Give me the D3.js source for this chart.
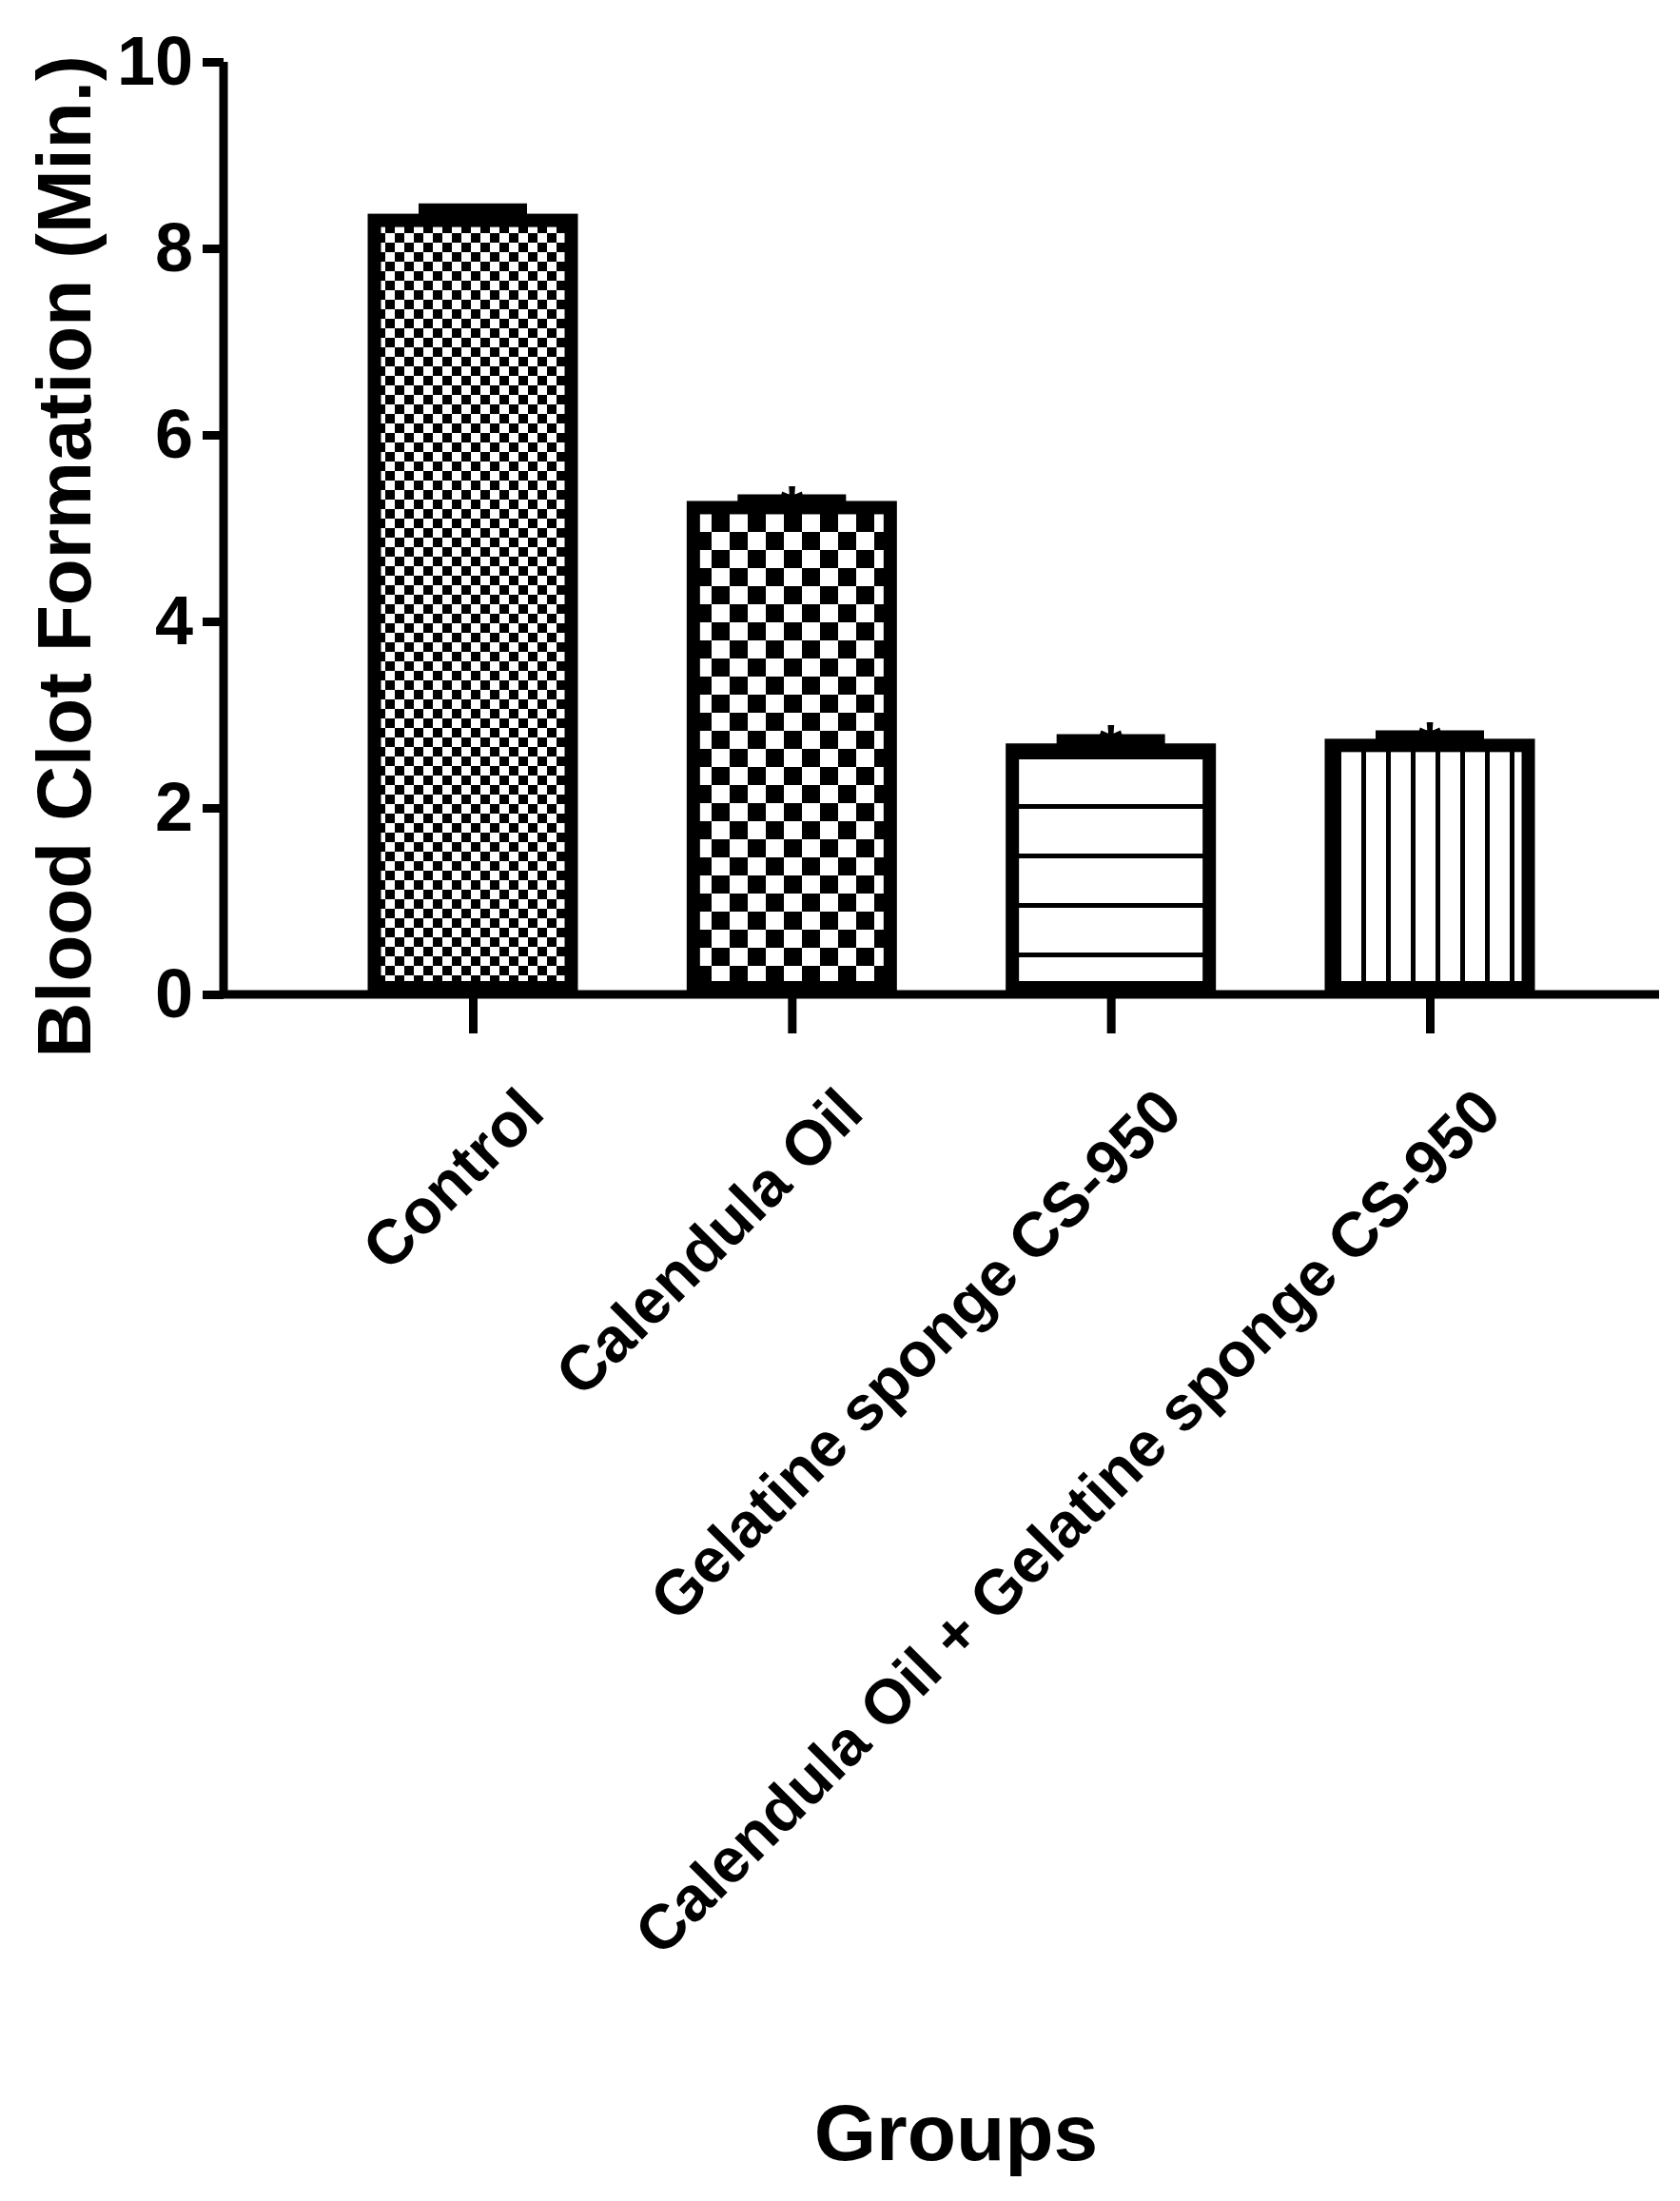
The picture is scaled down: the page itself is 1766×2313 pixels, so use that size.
<!DOCTYPE html>
<html><head><meta charset="utf-8">
<script src="https://cdn.jsdelivr.net/npm/d3@7"></script>
<style>body{margin:0;background:#fff}</style>
</head><body>
<script>
var groups = ["Control", "Calendula Oil", "Gelatine sponge CS-950", "Calendula Oil + Gelatine sponge CS-950"];
var means = [8.3, 5.22, 2.62, 2.67];
var errors = [0.12, 0.08, 0.11, 0.1];
var stars = ["", "*", "*", "*"];
var patterns = ["fine", "coarse", "hlines", "vlines"];
var yTicks = [0, 2, 4, 6, 8, 10];

var margin = {top: 65, left: 235},
  width = 1744 - margin.left,
  height = 1045 - margin.top,
  barW = 221;

var font = "Liberation Sans, Arial, sans-serif";
var svg = d3.select("body").append("svg")
  .attr("width", 1766).attr("height", 2313)
  .style("font-family", font).style("font-weight", "bold");

var defs = svg.append("defs");
function checker(id, s) {
  var p = defs.append("pattern").attr("id", id).attr("patternUnits", "userSpaceOnUse")
    .attr("width", 2 * s).attr("height", 2 * s);
  p.append("rect").attr("width", 2 * s).attr("height", 2 * s).attr("fill", "#fff");
  p.append("rect").attr("width", s).attr("height", s).attr("fill", "#000");
  p.append("rect").attr("x", s).attr("y", s).attr("width", s).attr("height", s).attr("fill", "#000");
}
checker("fine", 10);
checker("coarse", 19);
var ph = defs.append("pattern").attr("id", "hlines").attr("patternUnits", "userSpaceOnUse").attr("width", 10).attr("height", 52);
ph.append("rect").attr("width", 10).attr("height", 52).attr("fill", "#fff");
ph.append("rect").attr("width", 10).attr("height", 5).attr("fill", "#000");
var pv = defs.append("pattern").attr("id", "vlines").attr("patternUnits", "userSpaceOnUse").attr("width", 26).attr("height", 10);
pv.append("rect").attr("width", 26).attr("height", 10).attr("fill", "#fff");
pv.append("rect").attr("width", 5).attr("height", 10).attr("fill", "#000");

var g = svg.append("g").attr("transform", "translate(" + margin.left + "," + margin.top + ")");

var x = d3.scalePoint().domain(groups).range([262, 1268]);
var y = d3.scaleLinear().domain([0, 10]).range([height, 0]);

g.selectAll(".bar").data(groups).enter().append("rect")
  .attr("x", function(d) { return x(d) - barW / 2 + 7; })
  .attr("y", function(d, i) { return y(means[i]); })
  .attr("width", barW - 14)
  .attr("height", function(d, i) { return height - y(means[i]) - 7; })
  .attr("fill", function(d, i) { return "url(#" + patterns[i] + ")"; })
  .attr("stroke", "#000").attr("stroke-width", 14);

// error bars and stars
groups.forEach(function(d, i) {
  var cx = x(d), top = y(means[i] + errors[i]);
  g.append("line").attr("x1", cx).attr("x2", cx).attr("y1", y(means[i])).attr("y2", top)
    .attr("stroke", "#000").attr("stroke-width", 8);
  g.append("line").attr("x1", cx - 57).attr("x2", cx + 57).attr("y1", top).attr("y2", top)
    .attr("stroke", "#000").attr("stroke-width", 12);
  g.append("text").attr("x", cx).attr("y", top + 30).attr("text-anchor", "middle")
    .attr("font-size", 64).text(stars[i]);
});

var yAxis = g.append("g").call(d3.axisLeft(y).tickValues(yTicks).tickSize(22).tickPadding(10));
yAxis.selectAll("line,path").attr("stroke", "#000").attr("stroke-width", 9);
yAxis.select("path").attr("d", "M0," + height + "V0");
yAxis.selectAll("text").attr("font-size", 72).attr("font-family", font).attr("font-weight", "bold").attr("fill", "#000");

var xAxis = g.append("g").attr("transform", "translate(0," + height + ")")
  .call(d3.axisBottom(x).tickSize(41).tickPadding(10));
xAxis.selectAll("line,path").attr("stroke", "#000").attr("stroke-width", 9);
xAxis.select("path").attr("d", "M0,0H" + width);
xAxis.selectAll("text").attr("font-size", 66).attr("font-family", font).attr("font-weight", "bold").attr("fill", "#000")
  .attr("text-anchor", "end").attr("dy", "0.35em")
  .attr("transform", "translate(25,75) rotate(-45)");

svg.append("text").attr("transform", "translate(95," + (margin.top + height / 2 + 30) + ") rotate(-90)")
  .attr("text-anchor", "middle").attr("font-size", 80).text("Blood Clot Formation (Min.)");
svg.append("text").attr("x", 1005).attr("y", 2270).attr("text-anchor", "middle").attr("font-size", 84).text("Groups");
</script>
</body></html>
